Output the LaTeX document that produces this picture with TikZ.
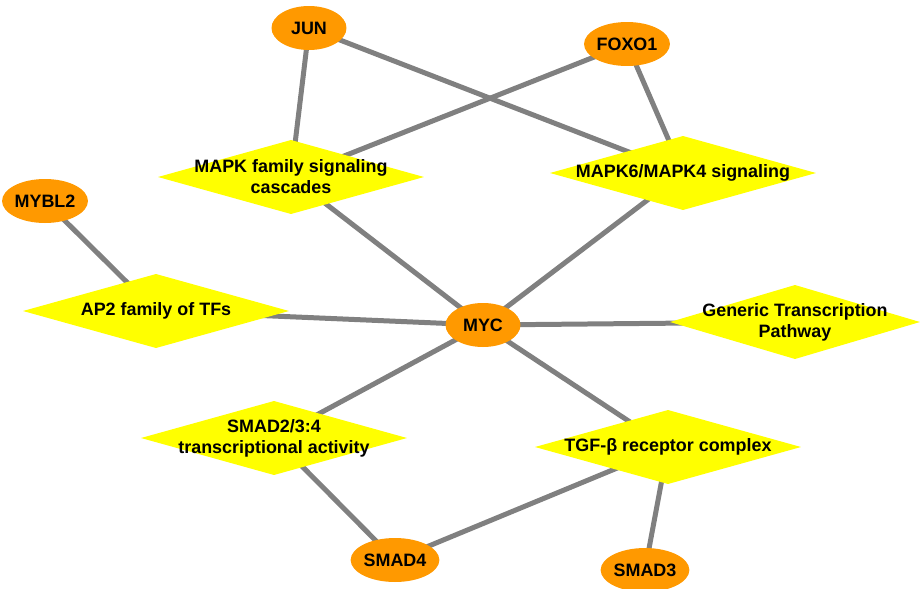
\documentclass[tikz,border=0pt]{standalone}
\usepackage{fontspec}
\setmainfont{Liberation Sans}
\usetikzlibrary{shapes.geometric,backgrounds}
\definecolor{geneorange}{RGB}{255,153,0}
\definecolor{pwyellow}{RGB}{255,255,0}
\definecolor{edgegray}{RGB}{128,128,128}

\begin{document}
\begin{tikzpicture}[x=0.02cm,y=-0.02cm,font=\bfseries\fontsize{10.2}{12}\selectfont,
  gene/.style={ellipse,fill=geneorange,inner sep=0pt,minimum width=1.5cm,minimum height=0.88cm},
  pathway/.style={rectangle,inner sep=0pt,minimum width=5.32cm,minimum height=1.48cm,align=center,
    path picture={\fill[pwyellow] (path picture bounding box.west) -- (path picture bounding box.north)
      -- (path picture bounding box.east) -- (path picture bounding box.south) -- cycle;}},
  every edge/.style={draw=edgegray,line width=0.1cm}]
  \useasboundingbox (0,0) rectangle (921,589);

  % pathways
  \node[pathway] (mapk)    at (291,177) {MAPK family signaling\\cascades};
  \node[pathway] (mapksix) at (683,173) {MAPK6/MAPK4 signaling};
  \node[pathway] (aptwo)   at (156,311) {AP2 family of TFs};
  \node[pathway,minimum width=5cm] (gtp) at (795,322) {Generic Transcription\\Pathway};
  \node[pathway] (smadact) at (274,438) {SMAD2/3:4\\transcriptional activity};
  \node[pathway] (tgfb)    at (668,447) {TGF-β receptor complex};

  % genes
  \node[gene] (jun)   at (309,28)  {JUN};
  \node[gene] (foxo)  at (627,44)  {FOXO1};
  \node[gene] (mybl)  at (45,201)  {MYBL2};
  \node[gene] (myc)   at (483,325) {MYC};
  \node[gene] (smadf) at (395,560) {SMAD4};
  \node[gene] (smadt) at (645,570) {SMAD3};

  \begin{scope}[on background layer]
  \path (jun.center)   edge (mapk.center)
        (jun.center)   edge (mapksix.center)
        (foxo.center)  edge (mapk.center)
        (foxo.center)  edge (mapksix.center)
        (mybl.center)  edge (aptwo.center)
        (myc.center)   edge (mapk.center)
        (myc.center)   edge (mapksix.center)
        (myc.center)   edge (aptwo.center)
        (myc.center)   edge (gtp.center)
        (myc.center)   edge (smadact.center)
        (myc.center)   edge (tgfb.center)
        (smadact.center) edge (smadf.center)
        (tgfb.center)  edge (smadf.center)
        (tgfb.center)  edge (smadt.center);
  \end{scope}
\end{tikzpicture}
\end{document}
